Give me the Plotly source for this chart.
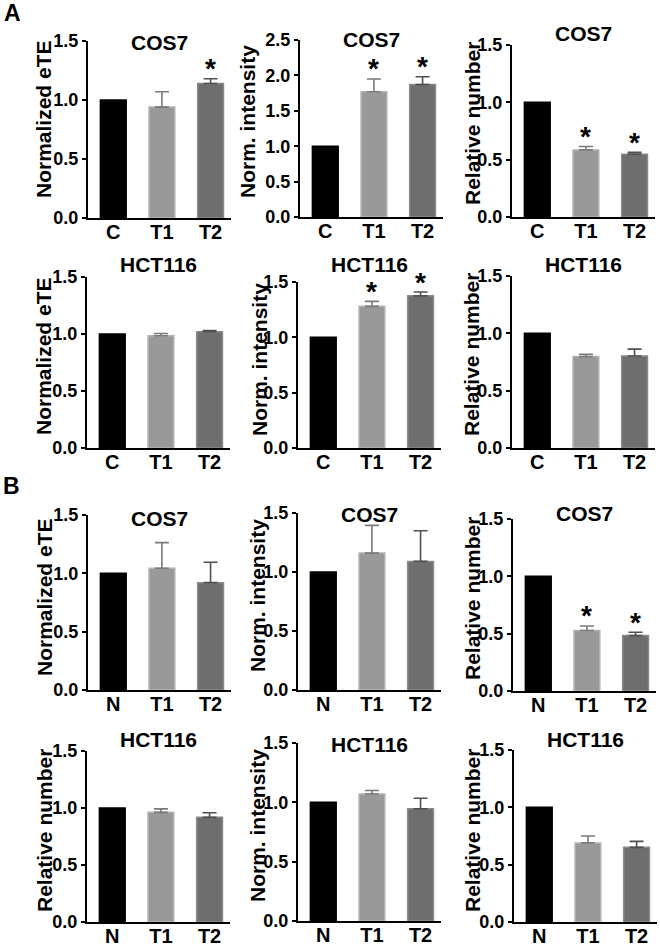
import plotly.graph_objects as go

# ---------------- data ----------------
cats_A = ["C", "T1", "T2"]
cats_B = ["N", "T1", "T2"]

titles = ["COS7", "COS7", "COS7", "HCT116", "HCT116", "HCT116",
          "COS7", "COS7", "COS7", "HCT116", "HCT116", "HCT116"]
ytitles = ["Normalized eTE", "Norm. intensity", "Relative number",
           "Normalized eTE", "Norm. intensity", "Relative number",
           "Normalized eTE", "Norm. intensity", "Relative number",
           "Relative number", "Norm. intensity", "Relative number"]
ymax = [1.5, 2.5, 1.5, 1.5, 1.5, 1.5, 1.5, 1.5, 1.5, 1.5, 1.5, 1.5]

a_cos7_ete = [1.00, 0.94, 1.14]
a_cos7_ete_err = [0.0, 0.13, 0.04]
a_cos7_int = [1.00, 1.77, 1.87]
a_cos7_int_err = [0.0, 0.18, 0.11]
a_cos7_num = [1.00, 0.585, 0.548]
a_cos7_num_err = [0.0, 0.03, 0.017]
a_hct_ete = [1.00, 0.985, 1.02]
a_hct_ete_err = [0.0, 0.02, 0.01]
a_hct_int = [1.00, 1.28, 1.375]
a_hct_int_err = [0.0, 0.045, 0.034]
a_hct_num = [1.00, 0.797, 0.802]
a_hct_num_err = [0.0, 0.02, 0.06]

b_cos7_ete = [1.00, 1.043, 0.92]
b_cos7_ete_err = [0.0, 0.22, 0.175]
b_cos7_int = [1.00, 1.16, 1.09]
b_cos7_int_err = [0.0, 0.235, 0.26]
b_cos7_num = [1.00, 0.527, 0.483]
b_cos7_num_err = [0.0, 0.04, 0.03]
b_hct_num1 = [1.00, 0.962, 0.918]
b_hct_num1_err = [0.0, 0.03, 0.04]
b_hct_int = [1.00, 1.07, 0.945]
b_hct_int_err = [0.0, 0.03, 0.09]
b_hct_num2 = [1.00, 0.69, 0.651]
b_hct_num2_err = [0.0, 0.06, 0.052]

values = [a_cos7_ete, a_cos7_int, a_cos7_num, a_hct_ete, a_hct_int, a_hct_num,
          b_cos7_ete, b_cos7_int, b_cos7_num, b_hct_num1, b_hct_int, b_hct_num2]
errors = [a_cos7_ete_err, a_cos7_int_err, a_cos7_num_err, a_hct_ete_err, a_hct_int_err, a_hct_num_err,
          b_cos7_ete_err, b_cos7_int_err, b_cos7_num_err, b_hct_num1_err, b_hct_int_err, b_hct_num2_err]
# significance stars (True = '*')
stars = [[False, False, True], [False, True, True], [False, True, True],
         [False, False, False], [False, True, True], [False, False, False],
         [False, False, False], [False, False, False], [False, True, True],
         [False, False, False], [False, False, False], [False, False, False]]

# ---------------- styling / layout ----------------
W, H = 660, 946
FONT = "Liberation Sans, Arial, sans-serif"
bar_colors = ["#000000", "#999999", "#6e6e6e"]
bar_edges = ["#000000", "#b4b4b4", "#8a8a8a"]
err_colors = ["#000000", "#7a7a7a", "#505050"]

# window px: left, top, zero, title y, axis-title x, axis-title y
geom = [
    (88, 41, 218, 42, 44, 119), (300, 40, 217, 39, 247, 122), (512, 45, 217, 34, 472, 124),
    (87, 277, 448, 264, 43, 356), (298, 282, 448, 264.5, 259, 360), (512, 276, 448, 264, 472, 355),
    (88, 515, 690, 518, 44, 597), (298, 513, 690, 514, 257, 596), (513, 519, 691, 513, 472, 599),
    (87, 751, 922, 739.5, 44, 831), (298, 743, 921, 744, 257, 826), (514, 750, 922, 739.5, 472, 831),
]
PW = 143
XR = [-0.52, 2.42]


def px(x):
    return x / W


def py(y):
    return 1 - y / H


fig = go.Figure()
annotations = []
layout = {}
for i in range(12):
    cats = cats_A if i < 6 else cats_B
    sfx = "" if i == 0 else str(i + 1)
    left, top, zero, ty, atx, aty = geom[i]
    for j in range(3):
        fig.add_trace(go.Bar(
            x=[cats[j]], y=[values[i][j]],
            xaxis="x" + sfx, yaxis="y" + sfx,
            width=0.53,
            marker=dict(color=bar_colors[j], line=dict(color=bar_edges[j], width=1.5)),
            error_y=dict(type="data", array=[errors[i][j]], arrayminus=[0], symmetric=False,
                         color=err_colors[j], thickness=1.6, width=7,
                         visible=errors[i][j] > 0),
            showlegend=False, hoverinfo="skip",
        ))
        if stars[i][j]:
            annotations.append(dict(
                x=cats[j], y=values[i][j] + errors[i][j], xref="x" + sfx, yref="y" + sfx,
                text="*", showarrow=False, yanchor="middle", yshift=10,
                font=dict(family=FONT, size=28, color="black", weight="bold")))
    layout["xaxis" + sfx] = dict(
        domain=[px(left), px(left + PW)], anchor="y" + sfx,
        type="category", categoryorder="array", categoryarray=cats,
        range=XR, showline=True, linewidth=2, linecolor="black",
        ticks="", showgrid=False, zeroline=False, automargin=False,
        ticklabelstandoff=-5,
        tickfont=dict(family=FONT, size=20, color="black", weight="bold"),
        fixedrange=True)
    layout["yaxis" + sfx] = dict(
        domain=[py(zero), py(top)], anchor="x" + sfx,
        range=[0, ymax[i]], dtick=0.5, tick0=0, tickformat=".1f",
        showline=True, linewidth=2, linecolor="black",
        ticks="outside", ticklen=4, tickwidth=2, tickcolor="black",
        showgrid=False, zeroline=False, automargin=False,
        tickfont=dict(family=FONT, size=18, color="black", weight="bold"),
        fixedrange=True)
    annotations.append(dict(
        x=px(left + PW / 2), y=py(ty), xref="paper", yref="paper",
        text=titles[i], showarrow=False, xanchor="center", yanchor="middle",
        font=dict(family=FONT, size=21, color="black", weight="bold")))
    annotations.append(dict(
        x=px(atx), y=py(aty), xref="paper", yref="paper",
        text=ytitles[i], showarrow=False, textangle=-90,
        xanchor="center", yanchor="middle",
        font=dict(family=FONT, size=21, color="black", weight="bold")))

annotations.append(dict(x=px(12), y=py(13), xref="paper", yref="paper", text="A",
                        showarrow=False, xanchor="center", yanchor="middle",
                        font=dict(family=FONT, size=23, color="black", weight="bold")))
annotations.append(dict(x=px(11), y=py(486), xref="paper", yref="paper", text="B",
                        showarrow=False, xanchor="center", yanchor="middle",
                        font=dict(family=FONT, size=23, color="black", weight="bold")))

fig.update_layout(
    width=W, height=H, margin=dict(l=0, r=0, t=0, b=0, pad=0), autosize=False,
    paper_bgcolor="white", plot_bgcolor="white",
    barmode="overlay", annotations=annotations, **layout)

fig.write_html("out.html", config={"displayModeBar": False},
               post_script="document.body.style.margin='0px';document.body.style.padding='0px';")
